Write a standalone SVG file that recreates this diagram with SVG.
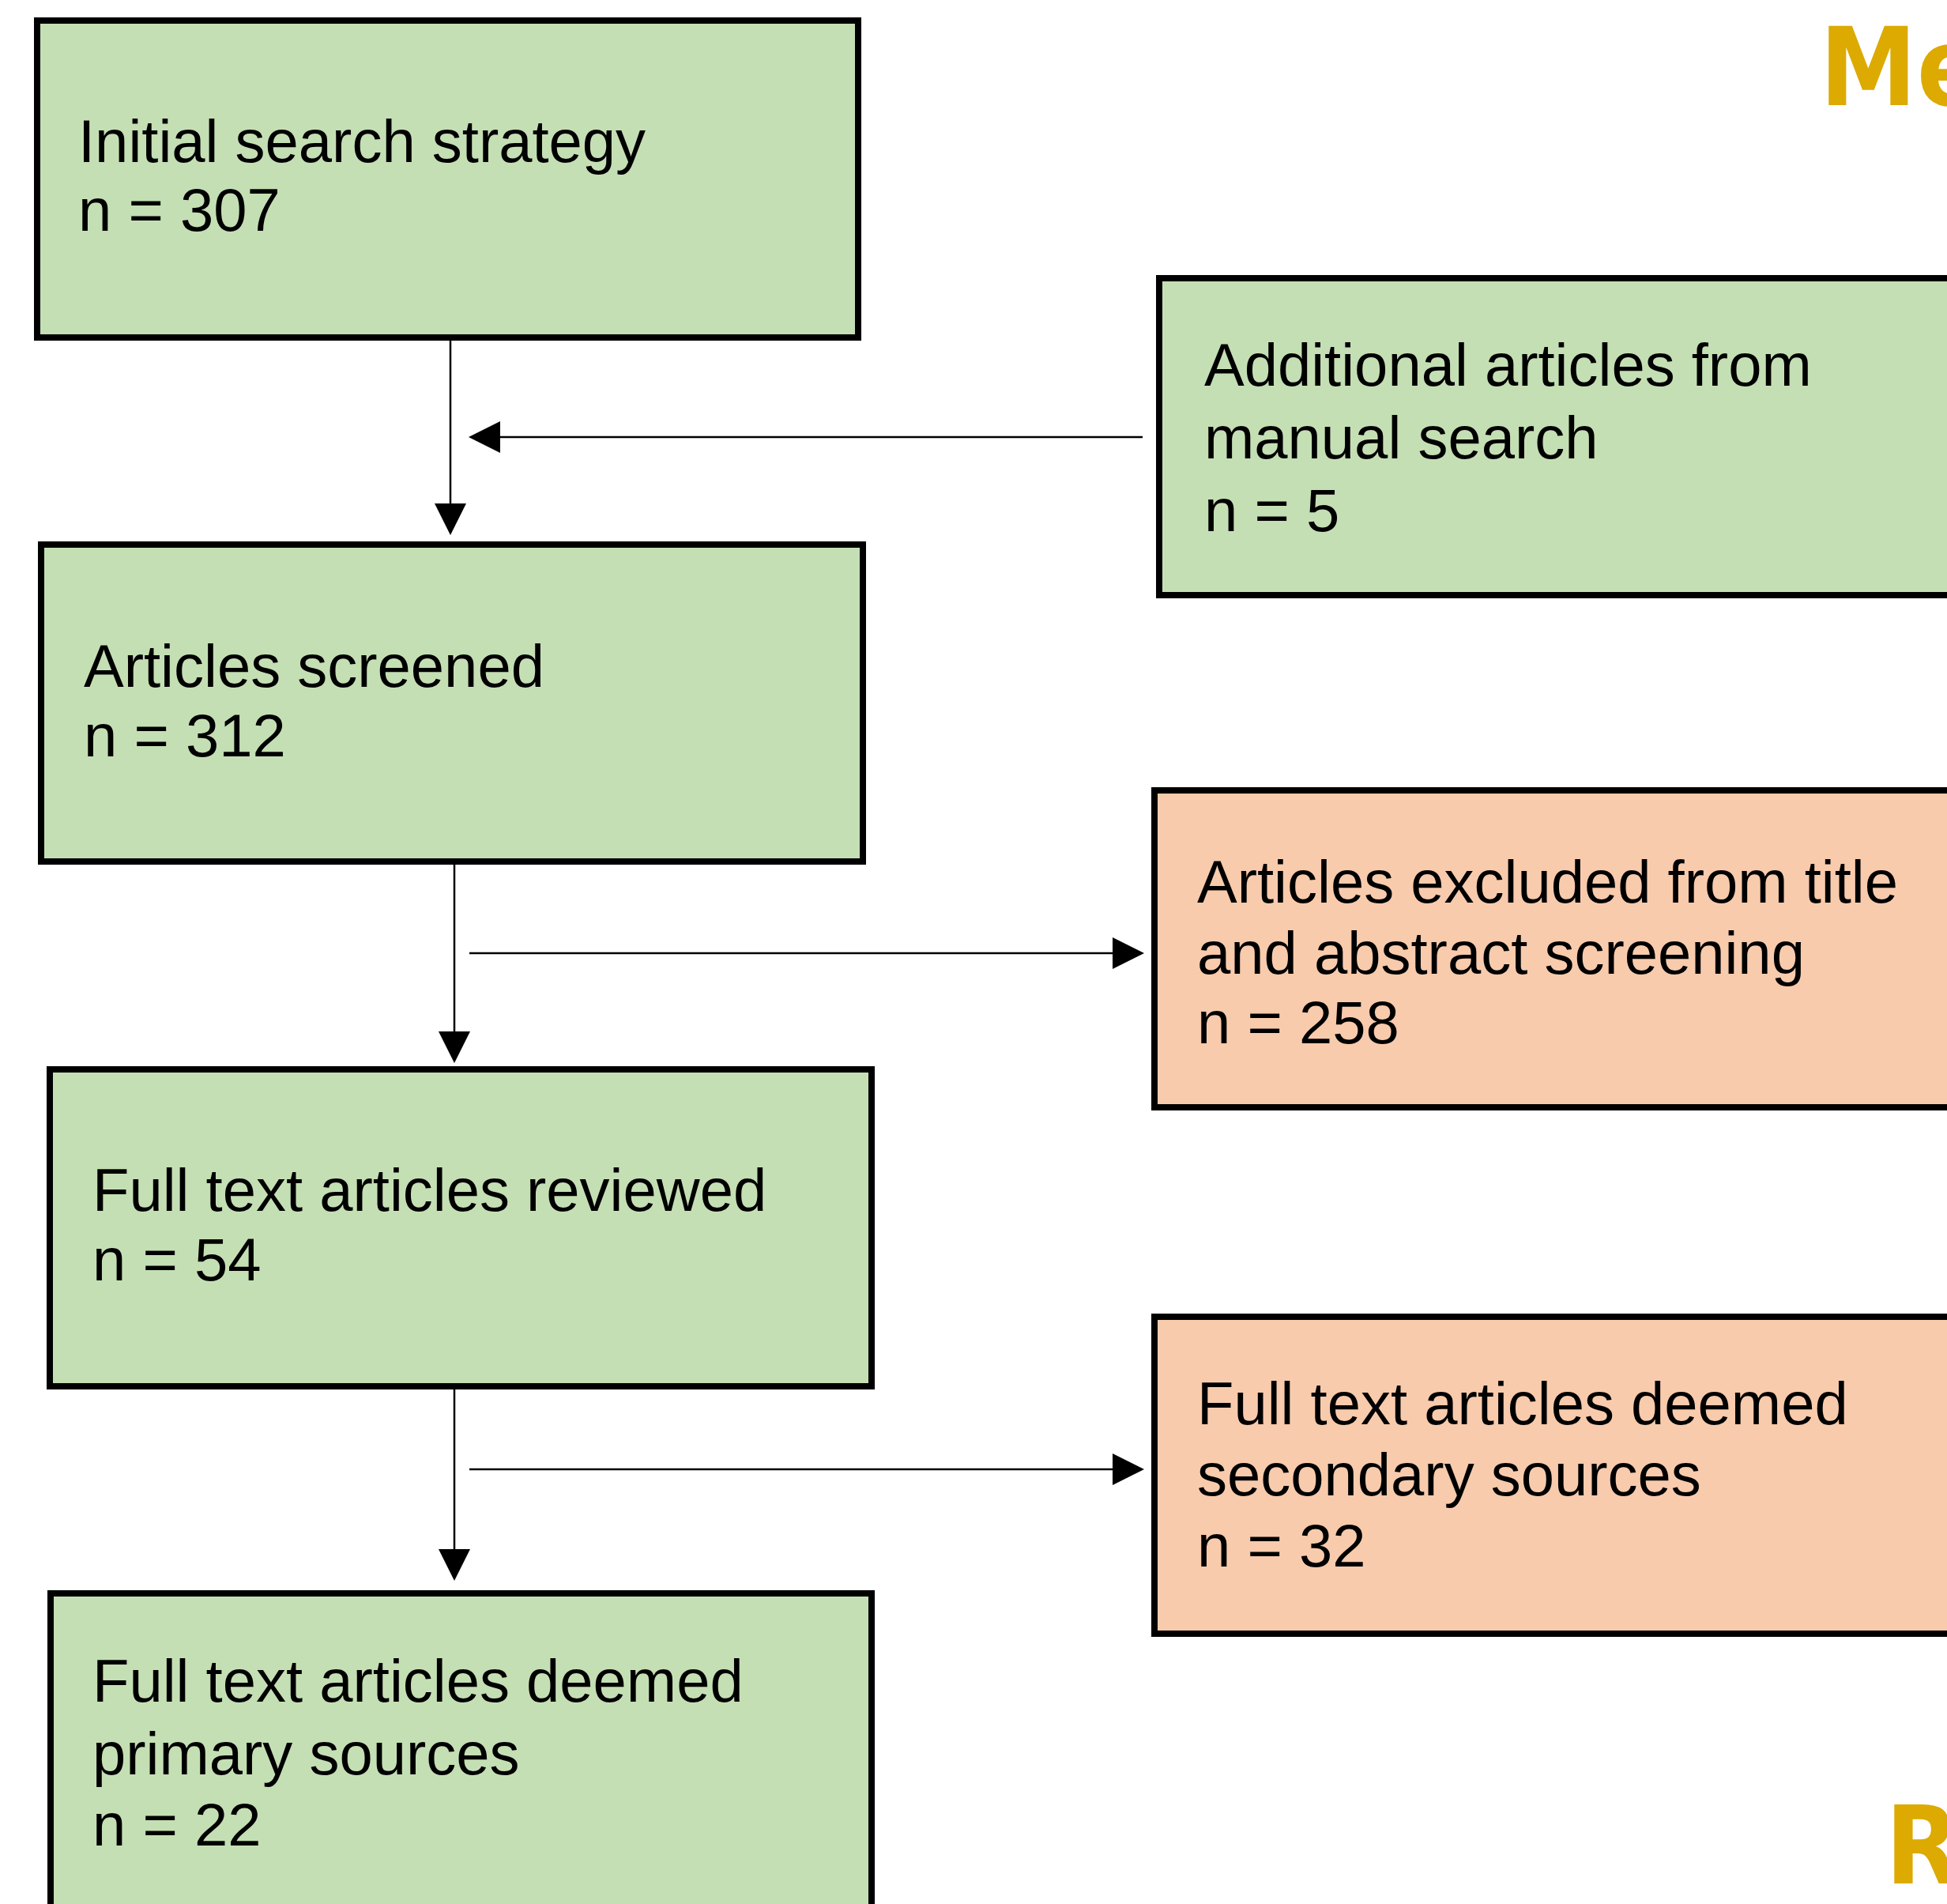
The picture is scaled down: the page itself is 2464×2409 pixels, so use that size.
<svg xmlns="http://www.w3.org/2000/svg" width="2464" height="2409" viewBox="0 0 2464 2409">
<style>
.box{stroke:#000;stroke-width:8}
.g{fill:#C5DFB4}
.o{fill:#F8CBAD}
.t{font-family:"Liberation Sans",Arial,Helvetica,sans-serif;font-size:76px;fill:#000}
.h{font-family:"DejaVu Sans Condensed","DejaVu Sans",sans-serif;font-weight:bold;font-size:137px;fill:#DCAA00}
.ln{stroke:#000;stroke-width:2.5;fill:none}
.ah{fill:#000}
</style>
<rect width="2464" height="2409" fill="#fff"/>
<g id="heading-me"><text class="h" x="2303" y="133">Me</text></g>
<g id="heading-r"><text class="h" x="2386" y="2383">R</text></g>
<g id="node-initial">
<rect class="box g" x="47" y="26" width="1039" height="401"/>
<text class="t" x="99" y="205">Initial search strategy</text>
<text class="t" x="99" y="292">n = 307</text>
</g>
<g id="node-screened">
<rect class="box g" x="52" y="689" width="1040" height="401"/>
<text class="t" x="106" y="869">Articles screened</text>
<text class="t" x="106" y="957">n = 312</text>
</g>
<g id="node-reviewed">
<rect class="box g" x="63" y="1353" width="1040" height="401"/>
<text class="t" x="117" y="1532">Full text articles reviewed</text>
<text class="t" x="117" y="1620">n = 54</text>
</g>
<g id="node-primary">
<rect class="box g" x="64" y="2016" width="1039" height="430"/>
<text class="t" x="117" y="2153">Full text articles deemed</text>
<text class="t" x="117" y="2245">primary sources</text>
<text class="t" x="117" y="2335">n = 22</text>
</g>
<g id="node-additional">
<rect class="box g" x="1467" y="352" width="1100" height="401"/>
<text class="t" x="1524" y="488">Additional articles from</text>
<text class="t" x="1524" y="580">manual search</text>
<text class="t" x="1524" y="672">n = 5</text>
</g>
<g id="node-excluded">
<rect class="box o" x="1461" y="1000" width="1100" height="401"/>
<text class="t" x="1515" y="1142">Articles excluded from title</text>
<text class="t" x="1515" y="1232">and abstract screening</text>
<text class="t" x="1515" y="1320">n = 258</text>
</g>
<g id="node-secondary">
<rect class="box o" x="1461" y="1666" width="1100" height="401"/>
<text class="t" x="1515" y="1802">Full text articles deemed</text>
<text class="t" x="1515" y="1892">secondary sources</text>
<text class="t" x="1515" y="1982">n = 32</text>
</g>
<g id="connectors">
<line class="ln" x1="570" y1="431" x2="570" y2="640"/>
<polygon class="ah" points="550,637 590,637 570,677"/>
<line class="ln" x1="1446" y1="553" x2="630" y2="553"/>
<polygon class="ah" points="633,533 633,573 593,553"/>
<line class="ln" x1="575" y1="1094" x2="575" y2="1308"/>
<polygon class="ah" points="555,1305 595,1305 575,1345"/>
<line class="ln" x1="594" y1="1206" x2="1410" y2="1206"/>
<polygon class="ah" points="1408,1186 1408,1226 1448,1206"/>
<line class="ln" x1="575" y1="1758" x2="575" y2="1963"/>
<polygon class="ah" points="555,1960 595,1960 575,2000"/>
<line class="ln" x1="594" y1="1859" x2="1410" y2="1859"/>
<polygon class="ah" points="1408,1839 1408,1879 1448,1859"/>
</g>
</svg>
